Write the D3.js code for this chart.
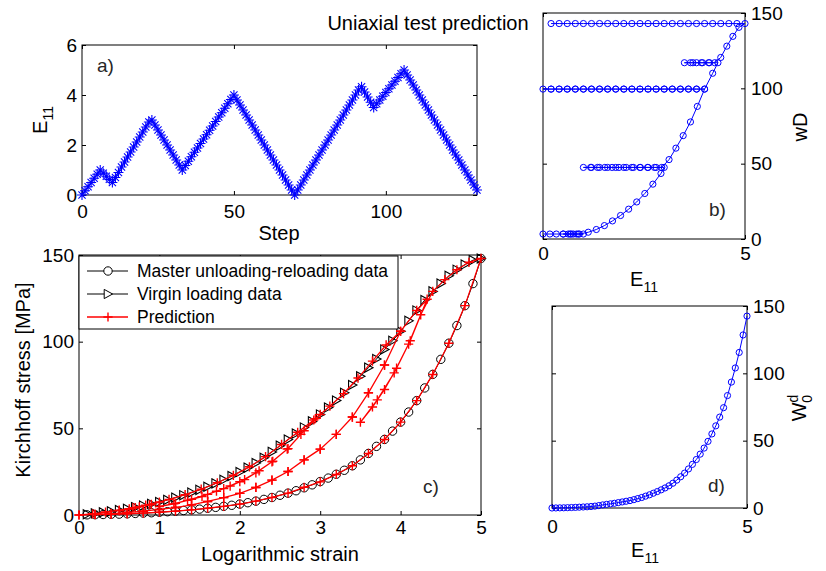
<!DOCTYPE html>
<html>
<head>
<meta charset="utf-8">
<script src="https://cdn.jsdelivr.net/npm/d3@7"></script>
<style>
  body { margin: 0; background: #fff; }
  svg text { font-family: "Liberation Sans", Arial, Helvetica, sans-serif; }
</style>
</head>
<body>
<svg id="fig" width="826" height="571"></svg>
<script>
// ---- data ----

// a) loading history: E11 at every step (step = array index)
const e11History = [0, 0.17, 0.33, 0.5, 0.67, 0.83, 1.0,
  0.875, 0.75, 0.625, 0.5,
  0.7, 0.9, 1.12, 1.32, 1.52, 1.72, 1.92, 2.12, 2.32, 2.52, 2.72, 2.92, 3.0,
  2.8, 2.6, 2.4, 2.2, 2.0, 1.8, 1.6, 1.4, 1.2, 1.0,
  1.18, 1.35, 1.53, 1.71, 1.88, 2.06, 2.24, 2.41, 2.59, 2.76, 2.94, 3.12, 3.29, 3.47, 3.65, 3.82, 4.0,
  3.8, 3.6, 3.4, 3.2, 3.0, 2.8, 2.6, 2.4, 2.2, 2.0, 1.8, 1.6, 1.4, 1.2, 1.0, 0.8, 0.6, 0.4, 0.2, 0.0,
  0.2, 0.4, 0.6, 0.8, 1.0, 1.2, 1.4, 1.6, 1.8, 2.0, 2.2, 2.4, 2.6, 2.8, 3.0, 3.2, 3.4, 3.6, 3.8, 4.0, 4.2, 4.33,
  4.12, 3.92, 3.71, 3.5,
  3.65, 3.8, 3.95, 4.1, 4.25, 4.4, 4.55, 4.7, 4.85, 5.0,
  4.8, 4.6, 4.4, 4.2, 4.0, 3.8, 3.6, 3.4, 3.2, 3.0, 2.8, 2.6, 2.4, 2.2, 2.0, 1.8, 1.6, 1.4, 1.2, 1.0, 0.8, 0.6, 0.4, 0.2];

// b) wD at every step
const wDHistory = [3.3, 3.3, 3.3, 3.3, 3.3, 3.3, 3.3, 3.3, 3.3, 3.3, 3.3, 3.3, 3.3,
  4.5, 6.3, 8.9, 12.0, 15.6, 19.8, 24.6, 30.2, 36.4, 43.5, 47.5,
  47.5, 47.5, 47.5, 47.5, 47.5, 47.5, 47.5, 47.5, 47.5, 47.5, 47.5, 47.5, 47.5, 47.5, 47.5, 47.5, 47.5, 47.5, 47.5, 47.5, 47.5,
  52.7, 60.3, 68.6, 77.7, 88.0, 99.5,
  99.5, 99.5, 99.5, 99.5, 99.5, 99.5, 99.5, 99.5, 99.5, 99.5, 99.5, 99.5, 99.5, 99.5, 99.5, 99.5, 99.5, 99.5, 99.5, 99.5,
  99.5, 99.5, 99.5, 99.5, 99.5, 99.5, 99.5, 99.5, 99.5, 99.5, 99.5, 99.5, 99.5, 99.5, 99.5, 99.5, 99.5, 99.5, 99.5, 99.5,
  110, 117,
  117, 117, 117, 117, 117, 117, 117, 117, 117,
  120.5, 128, 134.5, 140.5, 143,
  143, 143, 143, 143, 143, 143, 143, 143, 143, 143, 143, 143, 143, 143, 143, 143, 143, 143, 143, 143, 143, 143, 143, 143];

// c) predicted Kirchhoff stress at every step
const predStress = [0, 0.7, 1.7, 2.8, 4.2, 5.7, 7.5,
  5.9, 4.7, 3.5, 2.4,
  4.2, 6.1, 9.0, 11.7, 14.9, 18.6, 22.9, 27.8, 33.7, 40.7, 47.7, 54.8, 58.0,
  48.6, 38.3, 30.7, 24.3, 19.2, 15.2, 11.9, 9.1, 6.7, 4.9,
  6.4, 8.5, 10.6, 13.7, 16.7, 20.4, 25.5, 31.0, 38.0, 46.5, 55.6, 62.8, 70.0, 79.0, 88.8, 98.1, 106.0,
  86.5, 70.5, 56.5, 46.5, 38.0, 31.8, 25.1, 20.1, 15.9, 12.5, 10.0, 7.8, 5.9, 4.3, 3.2, 2.2, 1.4, 0.8, 0.4, 0,
  0.4, 0.8, 1.4, 2.2, 3.2, 4.3, 5.9, 7.8, 10.0, 12.5, 15.9, 20.1, 25.1, 31.8, 38.0, 46.5, 56.5, 70.5, 86.5, 106.0, 118.0, 124.5,
  100.5, 82.0, 66.4, 53.5,
  62.3, 72.4, 84.7, 98.6, 115.5, 129.0, 135.8, 141.5, 145.8, 148.0,
  120.8, 99.1, 81.1, 66.0, 53.6, 43.6, 35.5, 28.4, 23.4, 19.1, 16.0, 12.6, 10.1, 8.0, 6.3, 5.0, 3.9, 3.0, 2.2, 1.6, 1.1, 0.7, 0.4, 0.2];

// c) measured curves on a common strain grid
const strainGrid = [0.1, 0.2, 0.3, 0.4, 0.5, 0.6, 0.7, 0.8, 0.9, 1.0,
  1.1, 1.2, 1.3, 1.4, 1.5, 1.6, 1.7, 1.8, 1.9, 2.0,
  2.1, 2.2, 2.3, 2.4, 2.5, 2.6, 2.7, 2.8, 2.9, 3.0,
  3.1, 3.2, 3.3, 3.4, 3.5, 3.6, 3.7, 3.8, 3.9, 4.0,
  4.1, 4.2, 4.3, 4.4, 4.5, 4.6, 4.7, 4.8, 4.9, 5.0];
const masterStress = [0.1, 0.2, 0.3, 0.4, 0.5, 0.7, 0.9, 1.1, 1.3, 1.6,
  1.9, 2.2, 2.6, 3.0, 3.4, 3.9, 4.4, 5.0, 5.6, 6.3,
  7.1, 8.0, 9.0, 10.1, 11.4, 12.6, 14.0, 15.7, 17.4, 19.3,
  21.3, 23.5, 25.8, 28.4, 31.8, 35.5, 39.6, 43.6, 48.4, 53.6,
  59.4, 66.0, 73.3, 81.1, 89.8, 99.1, 109.3, 120.8, 133.5, 148.0];
const virginStress = [0.4, 0.9, 1.5, 2.1, 2.8, 3.6, 4.5, 5.4, 6.4, 7.5,
  8.7, 10.0, 11.4, 12.9, 14.5, 16.3, 18.2, 20.3, 22.5, 24.8,
  27.3, 30.0, 33.0, 36.4, 40.0, 43.5, 47.0, 50.5, 54.0, 58.0,
  62.0, 66.0, 70.5, 75.0, 80.0, 85.0, 90.0, 95.5, 100.5, 106.0,
  112.0, 118.0, 124.0, 129.0, 133.5, 138.0, 141.5, 144.5, 147.0, 148.0];

// d) W0^d curve
const dE11 = [0, 0.1, 0.2, 0.3, 0.4, 0.5, 0.6, 0.7, 0.8, 0.9, 1.0,
  1.1, 1.2, 1.3, 1.4, 1.5, 1.6, 1.7, 1.8, 1.9, 2.0,
  2.1, 2.2, 2.3, 2.4, 2.5, 2.6, 2.7, 2.8, 2.9, 3.0,
  3.1, 3.2, 3.3, 3.4, 3.5, 3.6, 3.7, 3.8, 3.9, 4.0,
  4.1, 4.2, 4.3, 4.4, 4.5, 4.6, 4.7, 4.8, 4.9, 5.0];
const dW0 = [0, 0.05, 0.1, 0.15, 0.25, 0.35, 0.45, 0.6, 0.75, 0.9, 1.1,
  1.4, 1.8, 2.3, 2.7, 3.1, 3.5, 4.0, 4.5, 5.0, 5.5,
  6.2, 7.0, 7.8, 8.8, 9.8, 11.0, 12.2, 13.5, 14.9, 16.5,
  18.4, 20.7, 23.2, 25.9, 29.0, 32.4, 36.0, 40.0, 44.5, 49.5,
  55.0, 61.0, 67.5, 74.5, 83.5, 93.5, 104.0, 115.5, 128.5, 142.5];

const legendNames = ['Master unloading-reloading data', 'Virgin loading data', 'Prediction'];

// ---- drawing ----
const FONT = '"Liberation Sans", Arial, Helvetica, sans-serif';
const svg = d3.select('#fig');

const markerPaths = {
  star: 'M-5,0L5,0M0,-5L0,5M-3.6,-3.6L3.6,3.6M-3.6,3.6L3.6,-3.6',
  tri: 'M-3.8,-4.6L4.6,0L-3.8,4.6Z',
  plus: 'M-4.6,0L4.6,0M0,-4.6L0,4.6'
};

// one axes box, MATLAB style: ticks inward on all four sides
function makeAxes(box, xDom, yDom, xTicks, yTicks, yRight, xPad) {
  const x = d3.scaleLinear().domain(xDom).range([box.x0, box.x1]);
  const y = d3.scaleLinear().domain(yDom).range([box.y1, box.y0]);
  const g = svg.append('g');
  const fmt = d3.format('d');

  const addAxis = (axis, tx, ty) => g.append('g')
    .attr('transform', 'translate(' + tx + ',' + ty + ')')
    .call(axis)
    .attr('font-size', 19).attr('font-family', FONT);

  addAxis(d3.axisBottom(x).tickValues(xTicks).tickFormat(fmt).tickSize(-4).tickPadding(xPad), 0, box.y1);
  addAxis(d3.axisTop(x).tickValues(xTicks).tickSize(-4).tickFormat(''), 0, box.y0);
  if (yRight) {
    addAxis(d3.axisRight(y).tickValues(yTicks).tickFormat(fmt).tickSize(-4).tickPadding(6), box.x1, 0);
    addAxis(d3.axisLeft(y).tickValues(yTicks).tickSize(-4).tickFormat(''), box.x0, 0);
  } else {
    addAxis(d3.axisLeft(y).tickValues(yTicks).tickFormat(fmt).tickSize(-4).tickPadding(5), box.x0, 0);
    addAxis(d3.axisRight(y).tickValues(yTicks).tickSize(-4).tickFormat(''), box.x1, 0);
  }
  g.selectAll('.domain').remove();
  g.selectAll('.tick line').attr('stroke', '#000');
  g.selectAll('.tick text').attr('fill', '#000');

  g.append('rect')
    .attr('x', box.x0).attr('y', box.y0)
    .attr('width', box.x1 - box.x0).attr('height', box.y1 - box.y0)
    .attr('fill', 'none').attr('stroke', '#000').attr('stroke-width', 1);
  return { x, y, g };
}

function drawSeries(ax, xs, ys, color, marker, lw) {
  const idx = d3.range(xs.length);
  const line = d3.line().x(i => ax.x(xs[i])).y(i => ax.y(ys[i]));
  ax.g.append('path').datum(idx)
    .attr('d', line).attr('fill', 'none')
    .attr('stroke', color).attr('stroke-width', lw);
  const m = ax.g.append('g');
  if (marker === 'circle' || marker === 'smallcircle') {
    m.selectAll('circle').data(idx).enter().append('circle')
      .attr('cx', i => ax.x(xs[i])).attr('cy', i => ax.y(ys[i]))
      .attr('r', marker === 'circle' ? 4.2 : 3.1)
      .attr('fill', 'none').attr('stroke', color).attr('stroke-width', 1);
  } else {
    m.selectAll('path').data(idx).enter().append('path')
      .attr('d', markerPaths[marker])
      .attr('transform', i => 'translate(' + ax.x(xs[i]) + ',' + ax.y(ys[i]) + ')')
      .attr('fill', 'none').attr('stroke', color).attr('stroke-width', marker === 'plus' ? 1.4 : 1.1);
  }
}

function label(txt, x, y, opts) {
  const t = svg.append('text')
    .attr('font-family', FONT)
    .attr('font-size', (opts && opts.size) || 20)
    .attr('fill', (opts && opts.fill) || '#000')
    .attr('text-anchor', (opts && opts.anchor) || 'middle');
  if (opts && opts.rotate) t.attr('transform', 'translate(' + x + ',' + y + ') rotate(-90)');
  else t.attr('x', x).attr('y', y);
  t.text(txt);
  return t;
}

// E with subscript 11
function eLabel(x, y, rotate) {
  const t = label('', x, y, { rotate: rotate });
  t.append('tspan').text('E');
  t.append('tspan').attr('font-size', 14).attr('dy', 6).text('11');
  return t;
}

// ---- a) ----
const axA = makeAxes({ x0: 82, x1: 477, y0: 45, y1: 195 }, [0, 130], [0, 6], [0, 50, 100], [0, 2, 4, 6], false, 10);
drawSeries(axA, d3.range(e11History.length), e11History, '#0000ff', 'star', 1);
label('a)', 97, 72, { size: 19, fill: '#262626', anchor: 'start' });
label('Step', 279, 240);
eLabel(47, 120, true);

// ---- b) ----
const axB = makeAxes({ x0: 543, x1: 745, y0: 13, y1: 239 }, [0, 5], [0, 150], [0, 5], [0, 50, 100, 150], true, 8);
drawSeries(axB, e11History, wDHistory, '#0000ff', 'smallcircle', 1);
label('b)', 709, 216, { size: 19, fill: '#262626', anchor: 'start' });
eLabel(644, 286, false);
label('wD', 807, 127, { rotate: true });
label('Uniaxial test prediction', 428, 30);

// ---- c) ----
const axC = makeAxes({ x0: 79, x1: 481, y0: 255, y1: 515 }, [0, 5], [0, 150], [0, 1, 2, 3, 4, 5], [0, 50, 100, 150], false, 6);
drawSeries(axC, strainGrid, masterStress, '#000', 'circle', 1);
drawSeries(axC, strainGrid, virginStress, '#000', 'tri', 1);
drawSeries(axC, e11History, predStress, '#ff0000', 'plus', 1.3);
label('c)', 423, 493, { size: 19, fill: '#262626', anchor: 'start' });
label('Logarithmic strain', 280, 561);
label('Kirchhoff stress [MPa]', 30, 380, { rotate: true });

// legend
const leg = svg.append('g');
leg.append('rect').attr('x', 79).attr('y', 256).attr('width', 319).attr('height', 73)
  .attr('fill', '#fff').attr('stroke', '#000');
const legStyle = [
  { color: '#000', marker: 'circle' },
  { color: '#000', marker: 'tri' },
  { color: '#ff0000', marker: 'plus' }
];
legendNames.forEach((name, k) => {
  const yy = 271 + k * 23;
  leg.append('line').attr('x1', 87).attr('x2', 128).attr('y1', yy).attr('y2', yy)
    .attr('stroke', legStyle[k].color).attr('stroke-width', k === 2 ? 1.3 : 1);
  if (legStyle[k].marker === 'circle') {
    leg.append('circle').attr('cx', 108).attr('cy', yy).attr('r', 4.2)
      .attr('fill', '#fff').attr('stroke', '#000');
  } else {
    leg.append('path').attr('d', markerPaths[legStyle[k].marker])
      .attr('transform', 'translate(108,' + yy + ')')
      .attr('fill', legStyle[k].marker === 'tri' ? '#fff' : 'none')
      .attr('stroke', legStyle[k].color).attr('stroke-width', k === 2 ? 1.4 : 1);
  }
  leg.append('text').attr('x', 137).attr('y', yy + 6)
    .attr('font-family', FONT).attr('font-size', 17.5).text(name);
});

// ---- d) ----
const axD = makeAxes({ x0: 552, x1: 747, y0: 306, y1: 508 }, [0, 5], [0, 150], [0, 5], [0, 50, 100, 150], true, 12);
drawSeries(axD, dE11, dW0, '#0000ff', 'smallcircle', 1);
label('d)', 708, 492, { size: 19, fill: '#262626', anchor: 'start' });
eLabel(645, 557, false);
const wl = label('', 806, 408, { rotate: true });
wl.append('tspan').text('W');
wl.append('tspan').attr('font-size', 14).attr('dy', -8).text('d');
wl.append('tspan').attr('font-size', 14).attr('dx', -8).attr('dy', 14).text('0');
</script>
</body>
</html>
